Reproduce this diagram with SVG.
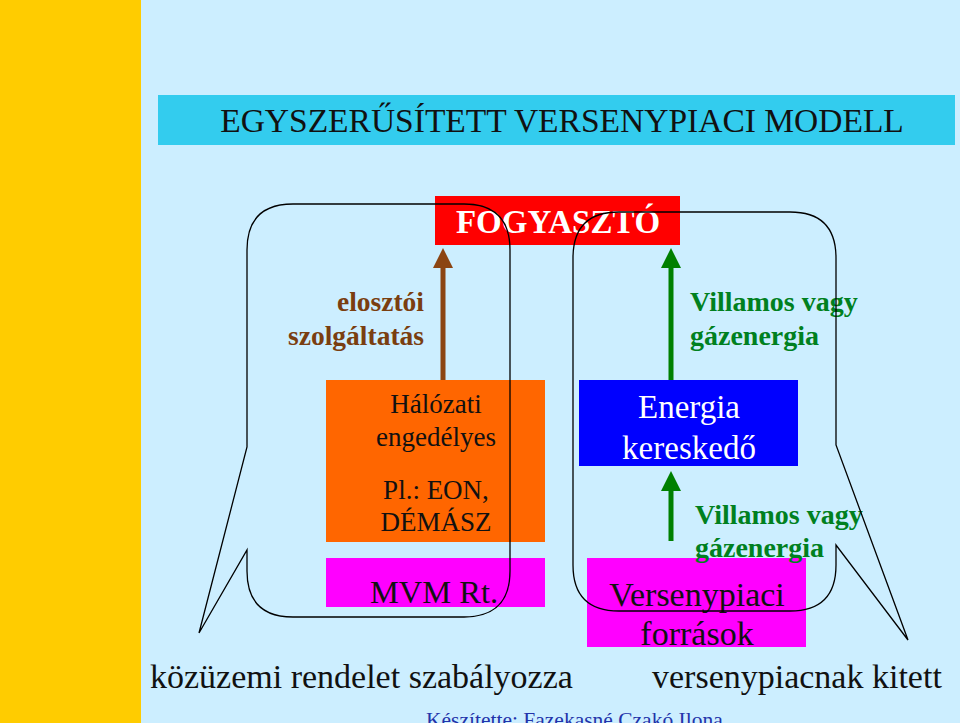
<svg xmlns="http://www.w3.org/2000/svg" width="960" height="723" viewBox="0 0 960 723">
<defs>
<style>
.s{font-family:"Liberation Serif",serif}
.c{fill:none;stroke:#000;stroke-width:1.3}
</style>
<marker id="ab" markerWidth="4" markerHeight="4" refX="2" refY="2" orient="auto" markerUnits="strokeWidth"><path d="M0,0L4,2L0,4z" fill="#8B4513"/></marker>
<marker id="ag" markerWidth="4" markerHeight="4" refX="2" refY="2" orient="auto" markerUnits="strokeWidth"><path d="M0,0L4,2L0,4z" fill="#008000"/></marker>
</defs>
<rect width="960" height="723" fill="#CCEEFF"/>
<rect x="0" y="0" width="141" height="723" fill="#FFCC00"/>
<g id="title"><rect x="158" y="95" width="797" height="50" fill="#33CCEE"/><text x="562" y="132" class="s" font-size="33.5" text-anchor="middle" fill="#111">EGYSZERŰSÍTETT VERSENYPIACI MODELL</text></g>
<g id="fogyaszto"><rect x="435" y="196" width="245" height="49" fill="#FF0000"/><text x="558" y="233" class="s" font-size="33" font-weight="bold" text-anchor="middle" fill="#fff">FOGYASZTÓ</text></g>
<g id="halozati"><rect x="326" y="380" width="219" height="162" fill="#FF6600"/><text class="s" font-size="27" text-anchor="middle" fill="#111"><tspan x="436" y="413">Hálózati</tspan><tspan x="436" y="446">engedélyes</tspan><tspan x="436" y="499">Pl.: EON,</tspan><tspan x="436" y="531">DÉMÁSZ</tspan></text></g>
<g id="mvm"><rect x="326" y="558" width="219" height="49" fill="#FF00FF"/><text x="434" y="603" class="s" font-size="32.5" text-anchor="middle" fill="#111">MVM Rt.</text></g>
<g id="energia"><rect x="579" y="380" width="219" height="86" fill="#0000FF"/><text class="s" font-size="33" text-anchor="middle" fill="#fff"><tspan x="689" y="418">Energia</tspan><tspan x="689" y="459">kereskedő</tspan></text></g>
<g id="versenypiaci"><rect x="587" y="558" width="219" height="89" fill="#FF00FF"/><text class="s" font-size="34" text-anchor="middle" fill="#111"><tspan x="697" y="606">Versenypiaci</tspan><tspan x="697" y="645">források</tspan></text></g>
<g id="labels" class="s">
<text font-size="27.5" font-weight="bold" fill="#7A3E10" text-anchor="end"><tspan x="424" y="311">elosztói</tspan><tspan x="424" y="345">szolgáltatás</tspan></text>
<text font-size="28" font-weight="bold" fill="#008020"><tspan x="690" y="311">Villamos vagy</tspan><tspan x="690" y="345">gázenergia</tspan></text>
<text font-size="28" font-weight="bold" fill="#008020"><tspan x="695" y="524">Villamos vagy</tspan><tspan x="695" y="557">gázenergia</tspan></text>
<text x="150" y="688" font-size="34" fill="#111">közüzemi rendelet szabályozza</text>
<text x="652" y="688" font-size="34" fill="#111">versenypiacnak kitett</text>
<text x="426" y="727" font-size="21.5" fill="#2233AA">Készítette: Fazekasné Czakó Ilona</text>
</g>
<g id="connectors">
<line x1="443" y1="380" x2="443" y2="258" stroke="#8B4513" stroke-width="5" marker-end="url(#ab)"/>
<line x1="671" y1="380" x2="671" y2="258" stroke="#008000" stroke-width="5" marker-end="url(#ag)"/>
<line x1="671" y1="541" x2="671" y2="481" stroke="#008000" stroke-width="5" marker-end="url(#ag)"/>
<path class="c" d="M247,447 L247,250 Q247,204 293,204 L464,204 Q510,204 510,250 L510,571 Q510,617 464,617 L293,617 Q247,617 247,571 L247,550 L199,633 Z"/>
<path class="c" d="M836,445 L836,258 Q836,212 790,212 L619,212 Q573,212 573,258 L573,565 Q573,611 619,611 L790,611 Q836,611 836,565 L836,545 L908,640 Z"/>
</g>
</svg>
